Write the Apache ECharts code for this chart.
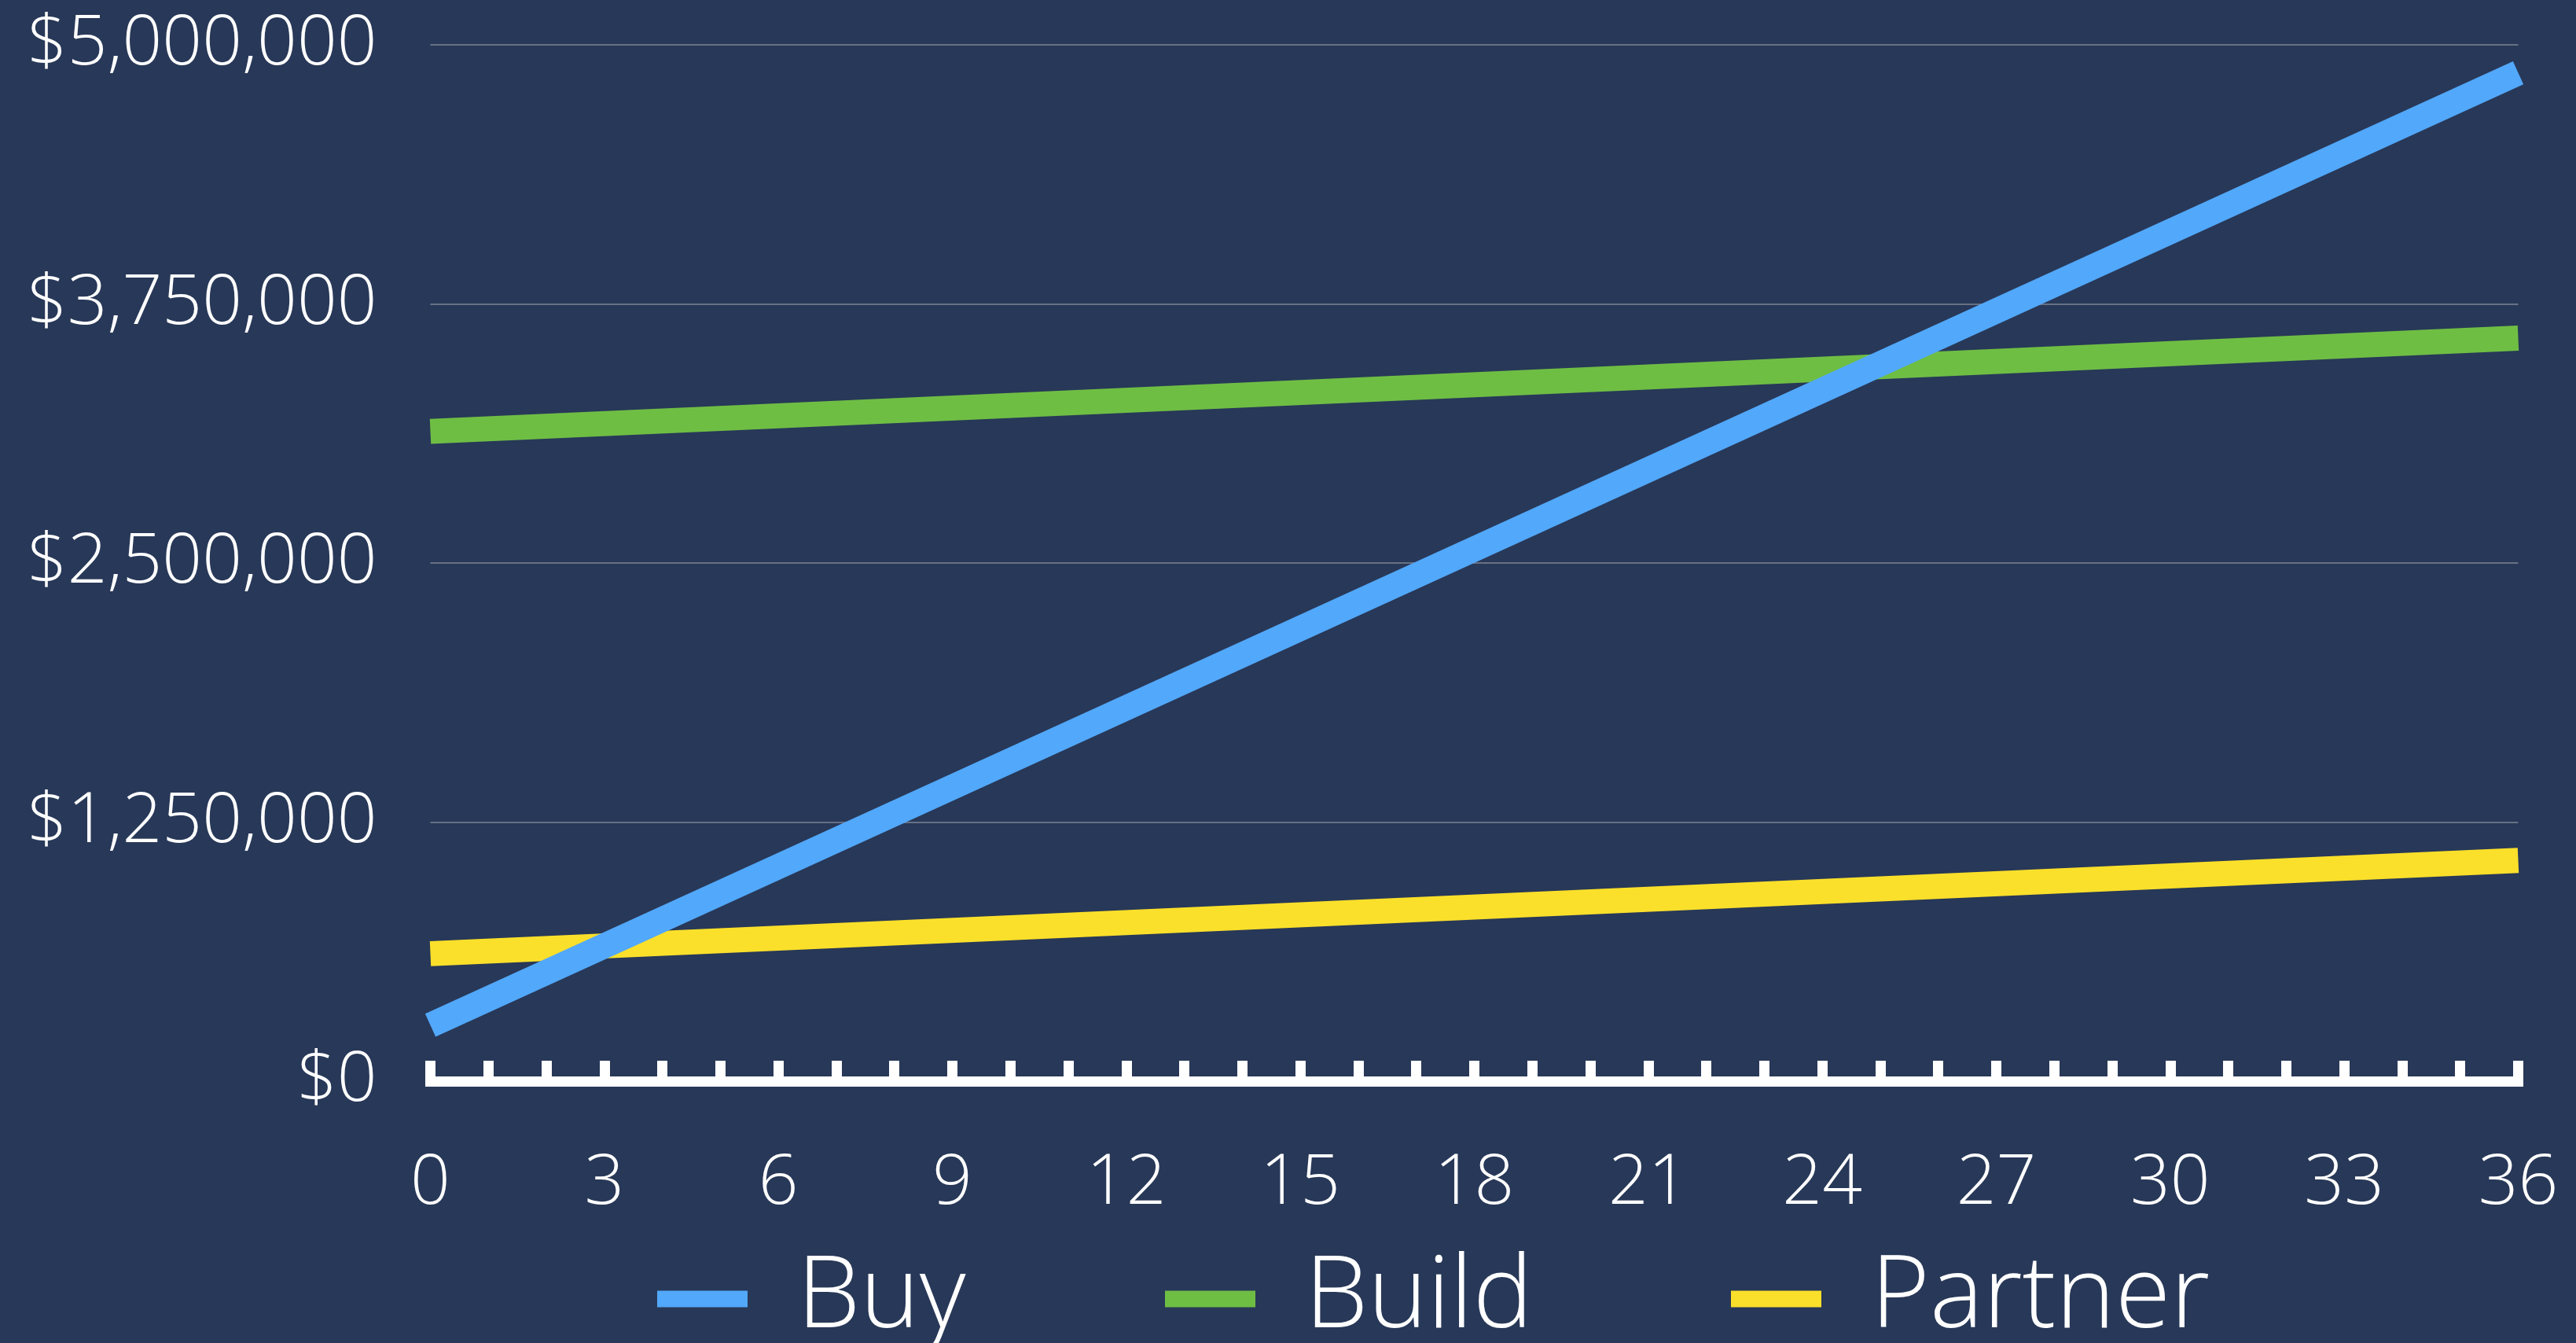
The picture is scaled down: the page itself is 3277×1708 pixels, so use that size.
<!DOCTYPE html>
<html>
<head>
<meta charset="utf-8">
<script src="https://cdn.jsdelivr.net/npm/echarts@6/dist/echarts.min.js"></script>
<style>
  html, body { margin: 0; padding: 0; background: #283858; }
  #chart { width: 3277px; height: 1708px; }
</style>
</head>
<body>
<div id="chart"></div>
<script>
// months on the x axis at the two ends of each straight line
const months = [0, 36]
const buyValues = [270000, 4865000]
const buildValues = [3135000, 3585000]
const partnerValues = [615000, 1065000]
const seriesNames = ['Buy', 'Build', 'Partner']
const seriesColors = ['#52a8fa', '#6ebe44', '#fbe02b']

const toPairs = (values) => months.map((m, i) => [m, values[i]])

const fontFamily = '"Open Sans", "Noto Sans", sans-serif'

const formatMoney = (v) => '$' + v.toLocaleString('en-US')

const chart = echarts.init(document.getElementById('chart'))

const legendLefts = [831, 1477, 2197]
const legends = seriesNames.map((name, i) => ({
  data: [name],
  left: legendLefts[i],
  top: 1578,
  icon: 'rect',
  itemWidth: 115,
  itemHeight: 21,
  selectedMode: false,
  textStyle: {
    color: '#ffffff',
    fontFamily,
    fontWeight: 300,
    fontSize: 128,
    lineHeight: 138,
    padding: [0, 0, 0, 58]
  }
}))

const lineSeries = (name, values, color, z) => ({
  name,
  type: 'line',
  data: toPairs(values),
  showSymbol: false,
  symbol: 'none',
  z,
  color,
  lineStyle: { color, width: 32, cap: 'butt' },
  emphasis: { disabled: true },
  animation: false
})

chart.setOption({
  backgroundColor: '#283858',
  animation: false,
  legend: legends,
  grid: { left: 547.5, right: 73.5, top: 57, bottom: 333, containLabel: false },
  xAxis: {
    type: 'value',
    min: 0,
    max: 36,
    interval: 1,
    axisLine: { show: true, onZero: false, lineStyle: { color: '#ffffff', width: 13, cap: 'square' } },
    axisTick: { show: true, inside: true, length: 26, lineStyle: { color: '#ffffff', width: 13 } },
    axisLabel: {
      color: '#ffffff',
      fontFamily,
      fontWeight: 300,
      fontSize: 89,
      margin: 86,
      formatter: (v) => (v % 3 === 0 ? String(v) : '')
    },
    splitLine: { show: false }
  },
  yAxis: {
    type: 'value',
    min: 0,
    max: 5000000,
    interval: 1250000,
    axisLine: { show: false },
    axisTick: { show: false },
    axisLabel: {
      color: '#ffffff',
      fontFamily,
      fontWeight: 300,
      fontSize: 89,
      margin: 68,
      formatter: formatMoney
    },
    splitLine: { show: true, lineStyle: { color: '#7d8493', width: 1.5 } }
  },
  series: [
    lineSeries('Build', buildValues, seriesColors[1], 2),
    lineSeries('Partner', partnerValues, seriesColors[2], 2),
    lineSeries('Buy', buyValues, seriesColors[0], 3)
  ]
})
</script>
</body>
</html>
